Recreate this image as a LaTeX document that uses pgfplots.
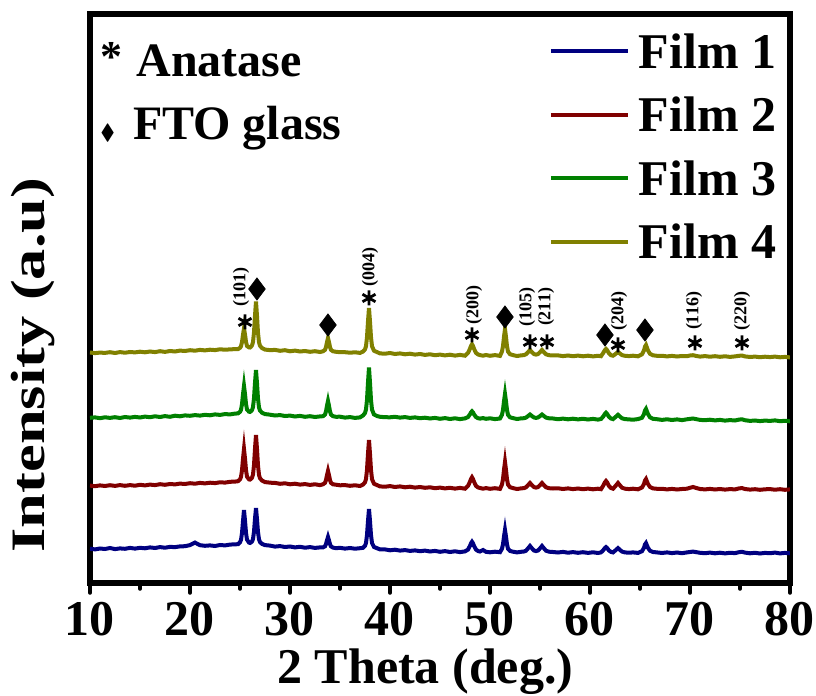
\documentclass[border=0pt]{standalone}
\usepackage{fontspec}
\setmainfont{Liberation Serif}
\usepackage{amssymb}
\usepackage{pgfplots}
\pgfplotsset{compat=1.18}
\usepackage{pgfplotstable}
\definecolor{filmA}{RGB}{0,0,128}
\definecolor{filmB}{RGB}{128,0,0}
\definecolor{filmC}{RGB}{0,128,0}
\definecolor{filmD}{RGB}{128,128,0}

\pgfplotstableread{
x f1 f2 f3 f4
10 34.3 97.4 165.2 230.5
10.5 33.6 96.8 165.6 229.9
11 34.5 97.6 164.8 230.4
11.5 34.0 97.0 165.7 230.1
12 35.0 97.8 165.1 230.8
12.5 33.9 97.1 165.8 230.0
13 34.6 97.9 165.0 230.9
13.5 34.2 97.2 166.0 230.3
14 35.1 97.9 165.4 231.0
14.5 34.4 97.3 166.1 230.6
15 35.2 98.2 165.5 231.3
15.5 34.7 97.6 166.4 230.7
16 35.6 98.4 165.8 231.5
16.5 35.0 97.9 166.7 230.9
17 35.9 98.8 166.0 231.8
17.5 35.3 98.2 166.9 231.1
18 36.1 99.0 166.2 232.0
18.5 35.9 98.6 167.3 231.5
19 36.6 99.4 166.7 232.4
19.5 36.8 99.0 167.6 232.0
20 37.9 99.8 167.2 232.8
20.5 40.4 99.3 167.9 232.3
21 37.8 100.1 167.4 233.1
21.5 37.2 99.6 168.2 232.6
22 37.6 100.3 167.7 233.3
22.5 37.0 99.9 168.6 232.9
23 38.0 100.7 168.1 233.7
23.5 37.6 100.4 168.9 233.3
24 38.4 101.2 168.6 233.6
24.5 38.7 101.4 169.4 233.9
24.8 38.8 101.8 169.6 233.9
25.0 40.7 103.6 171.2 235.2
25.1 43.1 106.0 173.2 236.7
25.2 49.9 112.6 178.8 240.9
25.3 61.8 124.1 188.6 248.2
25.4 73.0 134.0 197.0 254.5
25.5 62.3 124.5 189.0 248.6
25.6 50.2 113.0 179.1 241.2
25.7 43.4 106.3 173.5 237.0
25.9 40.4 103.6 171.3 235.6
26.0 40.1 103.4 171.1 235.5
26.1 40.6 104.1 171.8 236.3
26.2 41.5 105.3 172.9 237.6
26.3 43.9 108.4 175.9 240.9
26.4 51.3 117.8 184.7 250.5
26.5 64.2 134.2 200.1 267.3
26.6 75.0 148.0 213.0 281.5
26.7 63.9 133.9 199.8 267.1
26.8 51.0 117.5 184.4 250.3
26.9 43.6 108.1 175.6 240.7
27.0 41.0 104.8 172.5 237.3
27.2 39.1 102.4 170.3 234.9
27.5 37.9 100.9 168.9 233.4
27.8 37.6 100.6 168.6 233.1
28.0 37.4 100.3 168.3 232.8
28.5 36.4 100.1 167.5 233.1
29 36.9 99.2 167.9 232.2
29.5 36.0 99.7 167.0 232.8
30 36.5 98.7 167.4 231.7
30.5 35.6 99.3 166.5 232.4
31 36.2 98.4 167.1 231.5
31.5 35.3 98.9 166.2 232.0
32 35.9 98.1 166.8 231.2
32.5 35.1 98.7 166.0 231.8
33 35.6 97.9 166.6 231.0
33.3 35.6 98.7 166.8 231.7
33.5 36.7 100.1 168.4 233.1
33.6 38.9 102.9 171.6 235.9
33.7 42.7 107.8 177.2 240.8
33.8 46.0 112.0 182.0 245.0
33.9 42.7 107.8 177.2 240.8
34.0 38.8 102.9 171.6 235.9
34.1 36.6 100.1 168.4 233.1
34.3 35.4 98.7 166.8 231.7
34.6 34.8 98.3 166.2 231.2
35.0 35.2 97.7 166.3 230.8
35.5 34.4 97.9 165.4 230.8
36 35.0 97.2 165.9 230.3
36.5 34.3 97.7 165.1 230.7
37.0 34.8 97.0 165.6 230.1
37.3 35.2 98.4 167.5 231.4
37.5 37.2 100.7 170.0 233.6
37.6 40.0 103.9 173.5 236.8
37.7 48.0 113.1 183.0 245.8
37.8 62.0 129.2 200.5 261.5
37.9 74.0 143.0 215.5 275.0
38.0 62.0 129.2 200.5 261.5
38.1 48.0 113.1 183.0 245.8
38.2 40.0 103.9 173.5 236.8
38.4 36.0 99.3 168.5 232.3
38.7 34.8 97.9 167.0 230.9
39.0 33.6 96.6 166.2 229.6
39.5 33.6 96.3 165.8 229.3
40 32.7 96.9 165.7 230.0
40.5 33.3 96.0 166.2 229.0
41 32.4 96.6 165.4 229.6
41.5 32.9 95.7 165.9 228.7
42 32.1 96.3 165.1 229.3
42.5 32.6 95.4 165.6 228.4
43 31.8 96.0 164.8 229.0
43.5 32.4 95.2 165.3 228.1
44 31.5 95.7 164.5 228.7
44.5 32.1 94.8 165.1 227.8
45 31.2 95.4 164.2 228.4
45.5 31.9 94.6 164.9 227.6
46 31.0 95.2 164.0 228.3
46.5 31.7 94.4 164.7 227.4
47 30.9 95.1 163.9 228.1
47.5 31.6 94.3 164.6 227.3
47.8 33.4 97.1 165.9 230.1
48.0 37.2 101.3 168.7 234.3
48.1 39.7 104.0 170.6 237.1
48.2 41.2 105.7 171.7 238.7
48.3 39.7 104.0 170.6 237.1
48.4 37.2 101.3 168.7 234.3
48.6 33.4 97.1 165.9 230.1
48.8 32.0 95.6 164.8 228.6
49.0 31.5 95.0 164.4 227.9
49.3 33.0 94.3 164.9 227.3
49.6 31.2 94.9 164.2 228.0
50.0 30.7 94.2 164.7 227.2
50.5 31.3 94.8 163.9 227.9
51.0 30.8 94.1 164.5 227.1
51.2 34.3 98.5 168.2 231.5
51.3 38.7 103.8 173.1 236.8
51.4 46.4 113.1 181.7 246.1
51.5 53.0 121.0 189.0 254.0
51.6 46.4 113.1 181.7 246.1
51.7 38.7 103.8 173.1 236.8
51.8 34.3 98.5 168.2 231.5
52.0 32.1 95.8 165.7 228.8
52.3 31.3 94.9 164.9 227.9
52.7 30.6 94.0 164.0 227.0
53.1 31.2 94.6 164.6 227.6
53.4 31.5 94.9 164.8 227.9
53.6 32.3 95.7 165.4 228.7
53.8 34.6 97.8 166.9 230.8
54.0 37.0 100.0 168.5 233.0
54.2 34.6 97.8 166.9 230.8
54.4 32.5 95.9 165.5 228.9
54.6 31.9 95.4 165.1 228.4
54.8 32.5 95.9 165.5 228.9
55.0 34.6 97.8 166.9 230.8
55.2 37.0 100.0 168.5 233.0
55.4 34.6 97.8 166.9 230.8
55.6 32.3 95.7 165.4 228.7
55.9 31.3 94.8 164.7 227.8
56.3 31.0 94.5 164.5 227.5
56.8 30.5 94.7 163.8 227.6
57.3 31.1 94.0 164.4 226.9
57.8 30.3 94.6 163.7 227.5
58.3 30.9 93.9 164.3 226.8
58.8 30.2 94.5 163.6 227.4
59.3 30.8 93.8 164.2 226.7
59.8 30.1 94.4 163.5 227.3
60.3 30.7 93.7 164.1 226.6
60.8 30.0 94.3 163.4 227.2
61.1 30.6 93.8 164.0 226.8
61.3 32.5 97.0 166.2 229.7
61.5 35.1 100.8 169.2 233.0
61.6 35.9 102.0 170.2 234.0
61.7 35.1 100.8 169.2 233.0
61.9 32.5 97.0 166.2 229.7
62.1 31.1 95.0 164.5 227.8
62.3 30.6 94.3 163.9 227.3
62.4 31.4 95.3 164.7 227.9
62.6 33.1 97.6 166.4 229.4
62.8 34.9 100.0 168.2 231.0
63.0 33.1 97.6 166.4 229.4
63.2 31.4 95.3 164.7 227.9
63.5 30.6 94.3 163.9 227.2
63.9 30.3 93.9 163.6 226.9
64.3 30.6 94.3 163.3 227.3
64.8 30.1 93.7 163.9 226.7
65.2 31.8 95.5 165.2 228.7
65.4 35.2 99.0 168.9 232.5
65.5 38.5 102.5 172.5 236.4
65.6 39.9 104.0 174.1 238.0
65.7 37.5 101.5 171.5 235.3
65.8 35.2 99.0 168.9 232.5
66.0 32.3 96.0 165.7 229.2
66.3 31.0 94.6 164.2 227.7
66.7 30.6 94.2 163.8 227.2
67.2 30.0 94.2 163.1 227.2
67.7 30.6 93.6 163.7 226.6
68.2 29.9 94.1 163.0 227.1
68.7 30.5 93.5 163.6 226.5
69.2 29.8 94.0 162.9 227.0
69.7 30.6 94.3 163.7 226.8
70.0 31.0 95.2 164.1 227.5
70.3 31.4 96.0 164.5 227.8
70.6 30.9 95.1 163.9 227.1
71.0 30.2 94.0 163.1 226.4
71.5 29.8 93.6 162.8 226.9
72.0 30.4 94.1 163.3 226.3
72.5 29.7 93.5 162.6 226.8
73.0 30.3 94.0 163.1 226.2
73.5 29.6 93.4 162.4 226.7
74.0 30.2 93.9 162.9 226.1
74.5 29.9 93.6 162.5 226.6
74.9 30.8 94.6 163.4 227.2
75.2 31.2 94.9 163.7 227.4
75.5 30.4 94.0 162.8 226.6
76.0 29.7 93.4 162.1 226.0
76.5 30.2 93.8 162.5 226.4
77.0 29.5 93.2 161.9 225.8
77.5 30.1 93.7 162.4 226.3
78.0 29.8 93.9 162.1 225.9
78.5 30.4 93.3 162.6 226.4
79.0 29.6 93.8 161.8 225.7
79.5 30.1 93.2 162.2 226.1
80.0 29.7 93.6 161.7 225.6
}\xrd

\begin{document}
\begin{tikzpicture}
\begin{axis}[
  scale only axis,
  width=350bp, height=284.5bp,
  xmin=10, xmax=80, ymin=0, ymax=569,
  axis line style={line width=3bp},
  xtick={10,20,...,80},
  minor x tick num=1,
  xtick pos=left,
  ytick=\empty,
  tick align=outside,
  major tick length=5bp,
  minor tick length=3bp,
  every tick/.style={black, line width=1.75bp, line cap=round},
  /pgf/number format/assume math mode=true,
  xticklabel style={font=\fontsize{25bp}{30bp}\selectfont\bfseries, anchor=base, yshift=-21bp},
  xlabel={2 Theta (deg.)},
  xlabel style={font=\fontsize{25bp}{30bp}\selectfont\bfseries, at={(axis description cs:0.479,-0.177)}, anchor=base},
  ylabel={\scalebox{1.3}[1]{Intensity (a.u)}},
  ylabel style={font=\fontsize{24bp}{28bp}\selectfont\bfseries, at={(axis description cs:-0.0643,0.383)}, anchor=base},
  legend style={draw=none, fill=none, at={(axis description cs:0.981,0.965)}, anchor=north east,
    inner sep=0pt, row sep=14.7bp, column sep=4.5bp,
    nodes={inner sep=0pt, text height=17bp, text depth=0pt},
    font=\fontsize{25bp}{30bp}\selectfont\bfseries},
  legend cell align=left,
  legend image code/.code={\draw[#1] (0bp,0bp) -- (38.5bp,0bp);},
]
\addplot[filmA, line width=2bp] table[x=x, y=f1]{\xrd};
\addlegendentry{Film 1}
\addplot[filmB, line width=2bp] table[x=x, y=f2]{\xrd};
\addlegendentry{Film 2}
\addplot[filmC, line width=2bp] table[x=x, y=f3]{\xrd};
\addlegendentry{Film 3}
\addplot[filmD, line width=2bp] table[x=x, y=f4]{\xrd};
\addlegendentry{Film 4}

% anatase markers
\addplot[forget plot, only marks, mark=asterisk, mark size=3.75bp, black, mark options={line width=1.4bp}] coordinates {
 (25.5,261) (37.9,285) (48.2,248) (54.0,241) (55.7,241) (62.8,238) (70.5,240) (75.2,240)};
% FTO markers
\addplot[forget plot, only marks, mark=diamond*, mark size=5.5bp, black, mark options={line width=0.4bp}] coordinates {
 (26.7,294) (33.8,258) (51.5,266) (61.5,248) (65.5,253)};

\begin{scope}[every node/.style={rotate=90, font=\fontsize{9bp}{11bp}\selectfont\bfseries, inner sep=0pt}]
\node at (axis cs:25.1,296) {(101)};
\node at (axis cs:38.0,316) {(004)};
\node at (axis cs:48.4,278) {(200)};
\node at (axis cs:53.7,276) {(105)};
\node at (axis cs:55.6,276) {(211)};
\node at (axis cs:62.9,272) {(204)};
\node at (axis cs:70.4,272) {(116)};
\node at (axis cs:75.2,272) {(220)};
\end{scope}

\node[anchor=base west, inner sep=0pt, font=\fontsize{24bp}{28bp}\selectfont\bfseries] at (axis description cs:0.0143,0.891)
  {\raisebox{2.5bp}{\fontsize{22bp}{24bp}\selectfont *}\hspace{7bp}Anatase};
\node[anchor=base west, inner sep=0pt, font=\fontsize{24bp}{28bp}\selectfont\bfseries] at (axis description cs:0.0143,0.7786)
  {{\fontsize{11bp}{13bp}\selectfont$\blacklozenge$}\hspace{9bp}FTO glass};
\end{axis}
\pgfresetboundingbox
\path[use as bounding box] (current axis.south west) ++(-45bp,-56.5bp) rectangle ++(408bp,348bp);
\end{tikzpicture}
\end{document}
